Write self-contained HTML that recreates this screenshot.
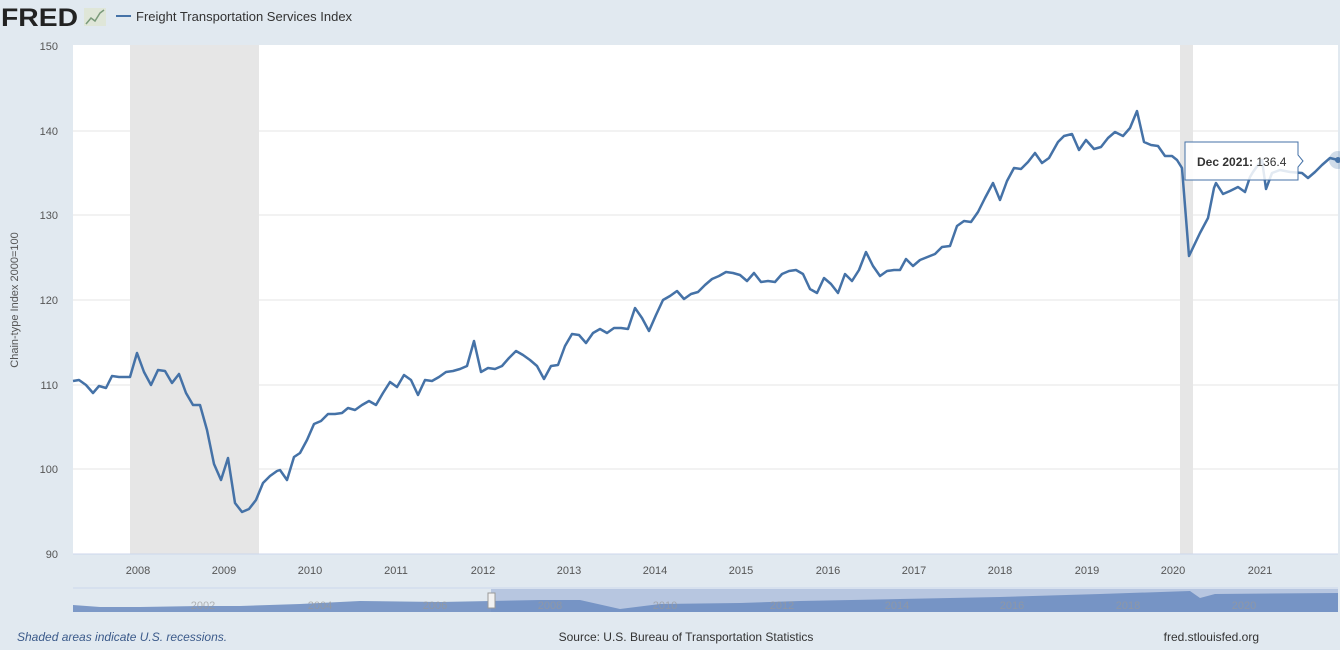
<!DOCTYPE html>
<html><head><meta charset="utf-8"><style>
body{margin:0;width:1340px;height:645px;background:#e1e9f0;font-family:"Liberation Sans",sans-serif;overflow:hidden}
</style></head><body>
<svg width="1340" height="645" xmlns="http://www.w3.org/2000/svg" font-family="Liberation Sans, sans-serif">
<rect width="1340" height="645" fill="#e1e9f0"/>
<text x="1" y="26" font-size="25" font-weight="bold" fill="#222" textLength="77" lengthAdjust="spacingAndGlyphs">FRED</text>
<rect x="84" y="8" width="22" height="18" fill="#dfe6d8"/>
<polyline points="86,24 91,18 95,21 100,13 104,10" fill="none" stroke="#7a9a7a" stroke-width="1.5"/>
<line x1="116" y1="16" x2="131" y2="16" stroke="#4572a7" stroke-width="2"/>
<text x="136" y="21" font-size="13" fill="#333">Freight Transportation Services Index</text>
<rect x="73" y="45" width="1265" height="509" fill="#fff"/>
<rect x="130" y="45" width="129" height="509" fill="#e6e6e6"/>
<rect x="1180" y="45" width="13" height="509" fill="#e6e6e6"/>
<g stroke="#e6e6e6" stroke-width="1">
<line x1="73" x2="1338" y1="131" y2="131"/><line x1="73" x2="1338" y1="215" y2="215"/><line x1="73" x2="1338" y1="300" y2="300"/><line x1="73" x2="1338" y1="385" y2="385"/><line x1="73" x2="1338" y1="469" y2="469"/>
</g>
<line x1="73" x2="1338" y1="554" y2="554" stroke="#ccd6eb"/>
<g font-size="11" fill="#555" text-anchor="end">
<text x="58" y="50">150</text><text x="58" y="135">140</text><text x="58" y="219">130</text><text x="58" y="304">120</text><text x="58" y="389">110</text><text x="58" y="473">100</text><text x="58" y="558">90</text>
</g>
<text transform="translate(18,300) rotate(-90)" font-size="11" fill="#555" text-anchor="middle">Chain-type Index 2000=100</text>
<g font-size="11" fill="#555" text-anchor="middle">
<text x="138" y="574">2008</text><text x="224" y="574">2009</text><text x="310" y="574">2010</text><text x="396" y="574">2011</text><text x="483" y="574">2012</text><text x="569" y="574">2013</text><text x="655" y="574">2014</text><text x="741" y="574">2015</text><text x="828" y="574">2016</text><text x="914" y="574">2017</text><text x="1000" y="574">2018</text><text x="1087" y="574">2019</text><text x="1173" y="574">2020</text><text x="1260" y="574">2021</text>
</g>
<polyline fill="none" stroke="#4572a7" stroke-width="2.5" stroke-linejoin="round" points="73,381 79,380 86,385 93,393 99,386 106,388 112,376 119,377 130,377 137,353 144,372 151,385 158,370 165,371 172,383 179,374 186,393 193,405 200,405 207,430 214,464 221,480 228,458 235,503 242,512 249,509 256,500 263,483 270,476 277,471 280,470 287,480 294,457 300,453 307,440 314,424 321,421 328,414 335,414 342,413 348,408 355,410 362,405 369,401 376,405 383,393 390,382 397,387 404,375 411,380 418,395 425,380 432,381 439,377 446,372 453,371 460,369 467,366 474,341 481,372 488,368 495,369 502,366 509,358 516,351 523,355 530,360 537,366 544,379 551,366 558,365 565,346 572,334 579,335 586,343 593,333 600,329 607,333 614,328 621,328 628,329 635,308 642,318 649,331 656,315 663,300 670,296 677,291 684,299 691,294 698,292 705,285 712,279 719,276 726,272 733,273 740,275 747,281 754,273 761,282 768,281 775,282 782,274 789,271 796,270 803,274 810,289 817,293 824,278 831,284 838,293 845,274 852,281 859,270 866,252 873,266 880,276 887,271 894,270 900,270 906,259 913,266 920,260 935,254 942,247 950,246 957,226 964,221 971,222 978,212 985,198 993,183 1000,200 1007,181 1014,168 1021,169 1028,162 1035,153 1042,163 1049,158 1058,142 1064,136 1072,134 1079,150 1086,140 1094,149 1101,147 1108,138 1115,132 1123,136 1130,128 1137,111 1144,142 1151,145 1158,146 1165,156 1172,156 1177,160 1182,168 1189,256 1200,233 1208,218 1214,188 1216,183 1223,194 1230,191 1238,187 1245,192 1250,177 1253,172 1258,165 1262,160 1266,189 1272,173 1280,170 1290,172 1302,173 1308,178 1315,172 1322,165 1330,158 1338,160"/>
<circle cx="1338" cy="160" r="9" fill="#4572a7" opacity="0.25"/>
<circle cx="1338" cy="160" r="3" fill="#4572a7"/>
<path d="M1185,142 H1298 V155 L1303,161 L1298,167 V180 H1185 Z" fill="#fff" fill-opacity="0.85" stroke="#4572a7" stroke-width="1"/>
<text x="1197" y="166" font-size="12" fill="#333"><tspan font-weight="bold">Dec 2021:</tspan> 136.4</text>
<line x1="73" x2="1338" y1="588" y2="588" stroke="#ccd6eb"/>
<rect x="491" y="589" width="847" height="23" fill="#b7c6e0"/>
<path d="M73,612 L73,605 100,607 140,607 200,606 240,606 300,604 360,601 440,602 491,601 540,600 580,600 620,609 660,604 740,603 800,601 900,599 1000,597 1100,594 1190,591 1200,598 1215,594 1338,593 L1338,612 Z" fill="#6b8bbf" opacity="0.85"/>
<g font-size="11" fill="#999" text-anchor="middle" opacity="0.7">
<text x="203" y="609">2002</text><text x="320" y="609">2004</text><text x="435" y="609">2006</text><text x="550" y="609">2008</text><text x="665" y="609">2010</text><text x="782" y="609">2012</text><text x="897" y="609">2014</text><text x="1012" y="609">2016</text><text x="1128" y="609">2018</text><text x="1244" y="609">2020</text>
</g>
<rect x="488" y="593" width="7" height="15" fill="#f2f2f2" stroke="#999"/>
<text x="17" y="641" font-size="12" fill="#3b5a8a" font-style="italic">Shaded areas indicate U.S. recessions.</text>
<text x="686" y="641" font-size="12" fill="#333" text-anchor="middle">Source: U.S. Bureau of Transportation Statistics</text>
<text x="1259" y="641" font-size="12" fill="#333" text-anchor="end">fred.stlouisfed.org</text>
</svg>
</body></html>
